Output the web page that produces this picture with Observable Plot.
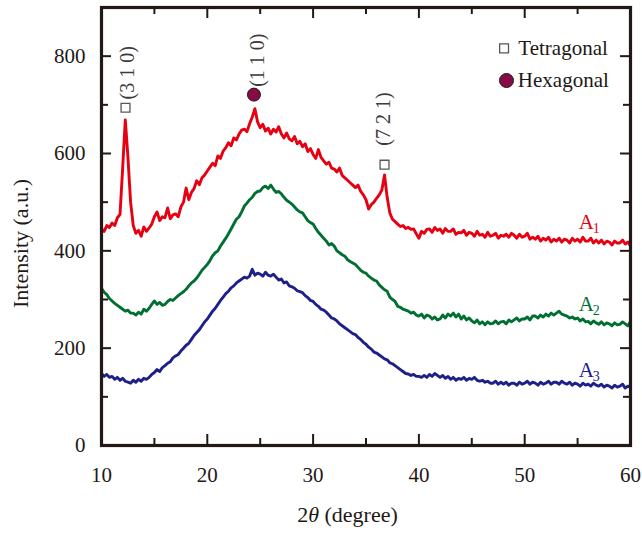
<!DOCTYPE html>
<html><head><meta charset="utf-8">
<script src="https://cdn.jsdelivr.net/npm/d3@7"></script>
<script src="https://cdn.jsdelivr.net/npm/@observablehq/plot@0.6"></script>
<style>body{margin:0;background:#fff} svg{display:block}</style>
</head><body><div id="chart"></div>
<script>
// 2θ sampling start and step (degrees)
const startAngle = 10, stepAngle = 0.25;
const A1 = [
445,440,452,448, 457,452,468,475, 570,669,592,500, 452,436,442,430, 449,440,447,455,
470,480,462,470, 468,488,466,474, 476,470,490,500, 529,505,520,528, 544,536,550,556,
564,572,580,575, 595,590,605,612, 622,616,632,628, 640,648,650,645, 661,675,692,665,
653,660,646,652, 640,650,644,655, 640,632,642,630, 626,635,620,625, 614,620,604,610,
598,590,608,592, 585,578,582,570, 568,562,570,555, 550,545,540,535, 530,535,522,515,
505,486,495,500, 508,515,525,556, 510,478,465,460, 455,450,452,446, 448,444,445,435,
426,440,436,444, 445,438,448,442, 445,436,446,440, 440,445,434,438, 437,442,432,438,
436,430,440,432, 434,428,438,430, 432,436,426,432, 430,434,428,436, 432,426,434,428,
430,436,424,428, 424,430,420,426, 422,428,418,424, 420,426,418,424, 422,416,426,420,
424,418,428,420, 420,426,416,422, 416,422,414,420, 418,412,420,416, 416,422,414,418,
410];
const A2 = [
323,315,310,302, 297,292,288,284, 280,276,278,272, 272,268,274,270, 280,276,282,290,
297,290,294,288, 290,296,300,298, 303,308,312,316, 321,328,334,338, 344,352,360,366,
372,380,390,396, 400,410,418,426, 435,445,455,465, 470,480,492,498, 505,510,518,522,
523,530,533,528, 535,527,520,522, 517,510,504,500, 496,490,484,480, 478,470,462,458,
455,446,438,432, 426,420,412,415, 410,400,396,392, 389,382,378,375, 372,366,360,356,
354,348,344,340, 338,330,325,320, 317,305,300,296, 286,284,280,278, 276,272,274,268,
266,270,262,268, 266,260,264,258, 260,268,262,270, 266,272,264,270, 260,266,258,262,
256,252,258,250, 254,248,254,250, 251,256,250,254, 255,250,258,254, 258,262,256,260,
260,264,258,266, 266,262,268,264, 270,266,272,268, 272,276,270,268, 266,262,264,260,
262,256,260,254, 255,250,256,252, 249,254,248,252, 250,246,252,248, 249,254,250,246,
255];
const A3 = [
148,142,146,140, 142,136,140,134, 138,132,130,128, 134,130,136,132, 138,136,140,146,
150,156,152,160, 164,169,172,180, 184,187,194,200, 206,210,218,226, 232,238,246,254,
260,268,276,282, 290,298,305,312, 317,324,328,334, 338,342,346,344, 348,362,350,354,
352,348,356,350, 348,352,346,340, 342,334,336,328, 326,323,318,316, 314,308,304,298,
296,290,286,280, 278,274,268,262, 260,256,250,246, 242,238,234,230, 228,222,218,212,
208,202,198,192, 190,186,182,178, 176,170,168,164, 160,156,152,148, 147,144,146,142,
142,140,144,140, 146,142,148,144, 140,144,138,142, 136,140,134,138, 136,140,134,138,
136,140,134,132, 134,130,132,128, 128,132,126,130, 126,130,124,128, 128,124,130,126,
128,132,126,130, 128,124,130,126, 128,132,126,130, 130,126,132,128, 126,130,124,128,
126,122,128,124, 126,122,128,124, 122,126,120,124, 122,118,124,120, 122,126,118,122,
120];
const seriesNames = ["A1", "A2", "A3"];
const seriesSub = ["1", "2", "3"];
const seriesLabelX = [55.1, 55.1, 55.1];
const seriesLabelY = [459, 290, 154];

const xMajor = [10, 20, 30, 40, 50, 60];
const xMinor = [15, 25, 35, 45, 55];
const yMajor = [0, 200, 400, 600, 800];
const yMinor = [100, 300, 500, 700];

// peak annotations
const peakLabels = ["(3 1 0)", "(1 1 0)", "(7 2 1)"];
const peakPhase = ["Tetragonal", "Hexagonal", "Tetragonal"];
const peakMarkX = [12.27, 24.41, 36.75];
const peakMarkY = [694, 721, 577];
const peakTextX = [12.42, 24.75, 36.65];
const peakTextY = [711, 737, 616];

// legend
const legendLabels = ["Tetragonal", "Hexagonal"];
const legendMarkX = [48.05, 48.28];
const legendMarkY = [816, 750];
const legendTextX = [49.4, 49.35];

// axis titles
const yTitle = "Intensity (a.u.)";
const xTitleParts = ["2", "θ", " (degree)"];
const xTitleCenter = 33.3;

const colors = ["#e60012", "#006f32", "#1d2088"];
const ink = "#231815";
const serif = "'Liberation Serif', 'Times New Roman', serif";

const rows = [];
[A1, A2, A3].forEach((arr, s) => arr.forEach((v, i) => rows.push({series: seriesNames[s], x: startAngle + i * stepAngle, v})));
const seriesLabels = seriesNames.map((n, i) => ({n, sub: seriesSub[i], x: seriesLabelX[i], y: seriesLabelY[i]}));
const peaks = peakLabels.map((t, i) => ({t, phase: peakPhase[i], mx: peakMarkX[i], my: peakMarkY[i], tx: peakTextX[i], ty: peakTextY[i]}));
const legend = legendLabels.map((t, i) => ({t, mx: legendMarkX[i], my: legendMarkY[i], tx: legendTextX[i]}));

const W = 642, H = 534, mL = 101, mR = 12, mT = 7, mB = 89;
const ph = H - mT - mB, pw = W - mL - mR;
const sq = d => d.phase === "Tetragonal";

const chart = Plot.plot({
  width: W, height: H, marginLeft: mL, marginRight: mR, marginTop: mT, marginBottom: mB,
  style: {fontFamily: serif, fontSize: "20px", color: ink, background: "#fff"},
  x: {domain: [10, 60]},
  y: {domain: [0, 900]},
  color: {domain: seriesNames, range: colors},
  marks: [
    Plot.line(rows, {x: "x", y: "v", z: "series", stroke: "series", strokeWidth: 2.9, strokeLinejoin: "round"}),
    // inward ticks
    Plot.tickX(xMajor, {x: d => d, stroke: ink, strokeWidth: 2, insetTop: ph - 11}),
    Plot.tickX(xMinor, {x: d => d, stroke: ink, strokeWidth: 2, insetTop: ph - 7}),
    Plot.tickX(xMajor, {x: d => d, stroke: ink, strokeWidth: 2, insetBottom: ph - 11}),
    Plot.tickX(xMinor, {x: d => d, stroke: ink, strokeWidth: 2, insetBottom: ph - 7}),
    Plot.tickY(yMajor, {y: d => d, stroke: ink, strokeWidth: 2, insetRight: pw - 10}),
    Plot.tickY(yMinor, {y: d => d, stroke: ink, strokeWidth: 2, insetRight: pw - 7}),
    Plot.tickY(yMajor, {y: d => d, stroke: ink, strokeWidth: 2, insetLeft: pw - 10}),
    Plot.tickY(yMinor, {y: d => d, stroke: ink, strokeWidth: 2, insetLeft: pw - 7}),
    Plot.frame({stroke: ink, strokeWidth: 3.2}),
    Plot.axisX(xMajor, {tickSize: 0, tickPadding: 22, fontSize: 21, label: null}),
    Plot.axisY(yMajor, {tickSize: 0, tickPadding: 16, fontSize: 21, label: null}),
    Plot.text([yTitle], {frameAnchor: "left", rotate: -90, dx: -81, dy: 17, fontSize: 22, lineAnchor: "middle", textAnchor: "middle", fill: ink}),
    // peak markers
    Plot.dot(peaks.filter(sq), {x: "mx", y: "my", symbol: "square", r: 5, fill: "#fff", stroke: "#595757", strokeWidth: 1.3}),
    Plot.dot(peaks.filter(d => !sq(d)), {x: "mx", y: "my", r: 6.5, fill: "#870b45", stroke: "#231815", strokeWidth: 1}),
    Plot.text(peaks, {x: "tx", y: "ty", text: "t", rotate: -90, textAnchor: "start", lineAnchor: "middle", fontSize: 20, fill: "#3e3a39"}),
    // legend
    Plot.dot(legend.slice(0, 1), {x: "mx", y: "my", symbol: "square", r: 5, fill: "#fff", stroke: "#595757", strokeWidth: 1.3}),
    Plot.dot(legend.slice(1), {x: "mx", y: "my", r: 7, fill: "#870b45", stroke: "#231815", strokeWidth: 1}),
    Plot.text(legend, {x: "tx", y: "my", text: "t", textAnchor: "start", lineAnchor: "middle", fontSize: 21, fill: "#231815"}),
    // series labels with subscripts
    Plot.text(seriesLabels, {x: "x", y: "y", text: () => "A", textAnchor: "start", lineAnchor: "middle", fontSize: 21, fill: "n"}),
    Plot.text(seriesLabels, {x: "x", y: "y", text: "sub", textAnchor: "start", lineAnchor: "middle", dx: 14, dy: 6, fontSize: 14, fill: "n"})
  ]
});
document.getElementById("chart").append(chart);

// x-axis title with italic theta
const xs = chart.scale("x");
const t = d3.select(chart).append("text")
  .attr("x", xs.apply(xTitleCenter))
  .attr("y", H - 12)
  .attr("text-anchor", "middle")
  .attr("font-family", serif)
  .attr("font-size", 22)
  .attr("fill", ink);
xTitleParts.forEach((p, i) => t.append("tspan").attr("font-style", i === 1 ? "italic" : null).text(p));
</script>
</body></html>
